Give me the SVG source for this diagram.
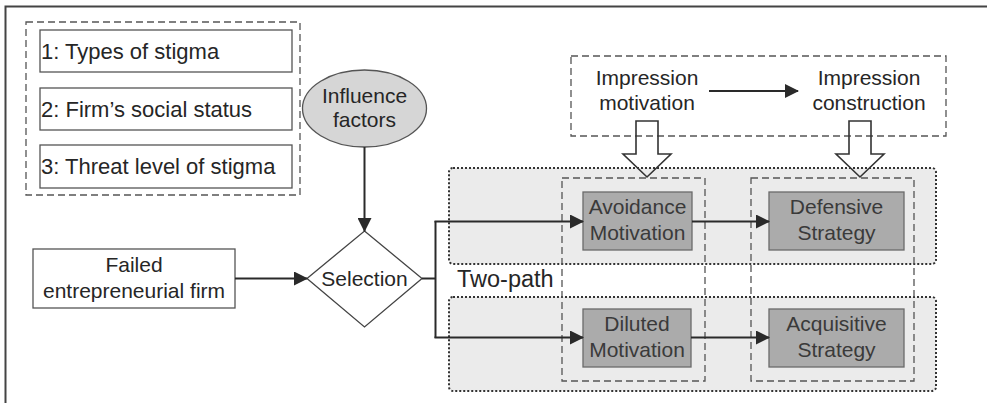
<svg xmlns="http://www.w3.org/2000/svg" width="987" height="403" viewBox="0 0 987 403">
<defs>
<marker id="ah" markerWidth="14" markerHeight="14" viewBox="0 0 14 14" refX="13" refY="7" orient="auto" markerUnits="userSpaceOnUse">
<path d="M0,0 L14,7 L0,14 Z" fill="#2a2a2a"/>
</marker>
<style>
text{font-family:"Liberation Sans",Arial,sans-serif;font-size:21px;fill:#262626}
.c{text-anchor:middle}
.g{fill:#3a3a3a}
.box{fill:#fff;stroke:#555;stroke-width:1.3}
.gbox{fill:#ababab;stroke:#6a6a6a;stroke-width:1.3}
.dash{fill:none;stroke:#555;stroke-width:1.3;stroke-dasharray:7,4}
.band{fill:#ebebeb;stroke:#333;stroke-width:2;stroke-dasharray:2,2}
.ln{fill:none;stroke:#2a2a2a;stroke-width:2}
.hollow{fill:none;stroke:#333;stroke-width:1.6;stroke-linejoin:miter}
</style>
</defs>
<rect width="987" height="403" fill="#fff"/>
<path d="M5.5,403 V6.5 H987" fill="none" stroke="#444" stroke-width="2"/>

<g id="factors-group">
<rect class="dash" x="26" y="22" width="274" height="173"/>
<g id="f1"><rect class="box" x="40" y="30" width="252" height="42"/><text x="41" y="58.5" style="font-size:22px">1: Types of stigma</text></g>
<g id="f2"><rect class="box" x="40" y="88" width="252" height="42"/><text x="41" y="116.5" style="font-size:22px">2: Firm’s social status</text></g>
<g id="f3"><rect class="box" x="40" y="145" width="252" height="43"/><text x="41" y="173.5" style="font-size:22px">3: Threat level of stigma</text></g>
</g>

<g id="influence"><ellipse cx="364.5" cy="108.5" rx="62" ry="38.5" fill="#d6d6d6" stroke="#555" stroke-width="1.3"/>
<text class="c" x="364.5" y="103">Influence</text><text class="c" x="364.5" y="127">factors</text></g>

<g id="failed"><rect class="box" x="33" y="249" width="202" height="59"/>
<text class="c" x="134" y="272">Failed</text><text class="c" x="134" y="298">entrepreneurial firm</text></g>

<g id="selection"><polygon points="364.5,231 422,278.5 364.5,327 307,278.5" fill="#fff" stroke="#444" stroke-width="1.3"/>
<text class="c" x="364.5" y="286">Selection</text></g>

<g id="impression">
<rect class="dash" x="571" y="56" width="375" height="80"/>
<text class="c" x="647" y="85">Impression</text><text class="c" x="647" y="110">motivation</text>
<text class="c" x="869" y="85">Impression</text><text class="c" x="869" y="110">construction</text>
</g>

<g id="bands">
<rect class="band" x="449" y="168" width="487" height="96" rx="4"/>
<rect class="band" x="449" y="297" width="487" height="94" rx="4"/>
<text x="457" y="287" style="font-size:23.5px">Two-path</text>
<rect class="dash" x="562" y="178" width="143" height="203"/>
<rect class="dash" x="751" y="178" width="163" height="203"/>
</g>

<g id="avoidance"><rect class="gbox" x="583" y="192" width="109" height="58"/>
<text class="c g" x="637.5" y="214">Avoidance</text><text class="c g" x="637.5" y="240">Motivation</text></g>
<g id="defensive"><rect class="gbox" x="769" y="192" width="135" height="58"/>
<text class="c g" x="836.5" y="214">Defensive</text><text class="c g" x="836.5" y="240">Strategy</text></g>
<g id="diluted"><rect class="gbox" x="583" y="309" width="108" height="58"/>
<text class="c g" x="637" y="331">Diluted</text><text class="c g" x="637" y="357">Motivation</text></g>
<g id="acquisitive"><rect class="gbox" x="769" y="309" width="135" height="58"/>
<text class="c g" x="836.5" y="331">Acquisitive</text><text class="c g" x="836.5" y="357">Strategy</text></g>

<g id="connectors">
<line class="ln" x1="364.5" y1="147" x2="364.5" y2="231" marker-end="url(#ah)"/>
<line class="ln" x1="235" y1="278.5" x2="307" y2="278.5" marker-end="url(#ah)"/>
<path class="ln" d="M422,278.5 H435.5"/>
<path class="ln" d="M435.5,221 V338"/>
<line class="ln" x1="434.5" y1="221.5" x2="583" y2="221.5" marker-end="url(#ah)"/>
<line class="ln" x1="434.5" y1="337.5" x2="583" y2="337.5" marker-end="url(#ah)"/>
<line class="ln" x1="692" y1="221.5" x2="769" y2="221.5" marker-end="url(#ah)"/>
<line class="ln" x1="691" y1="337.5" x2="769" y2="337.5" marker-end="url(#ah)"/>
<line class="ln" x1="709" y1="91" x2="798" y2="91" marker-end="url(#ah)"/>
<polygon class="hollow" points="636,121 658,121 658,154 671,154 647,177 623,154 636,154"/>
<polygon class="hollow" points="849,121 871,121 871,154 884,154 860,177 836,154 849,154"/>
</g>
</svg>
